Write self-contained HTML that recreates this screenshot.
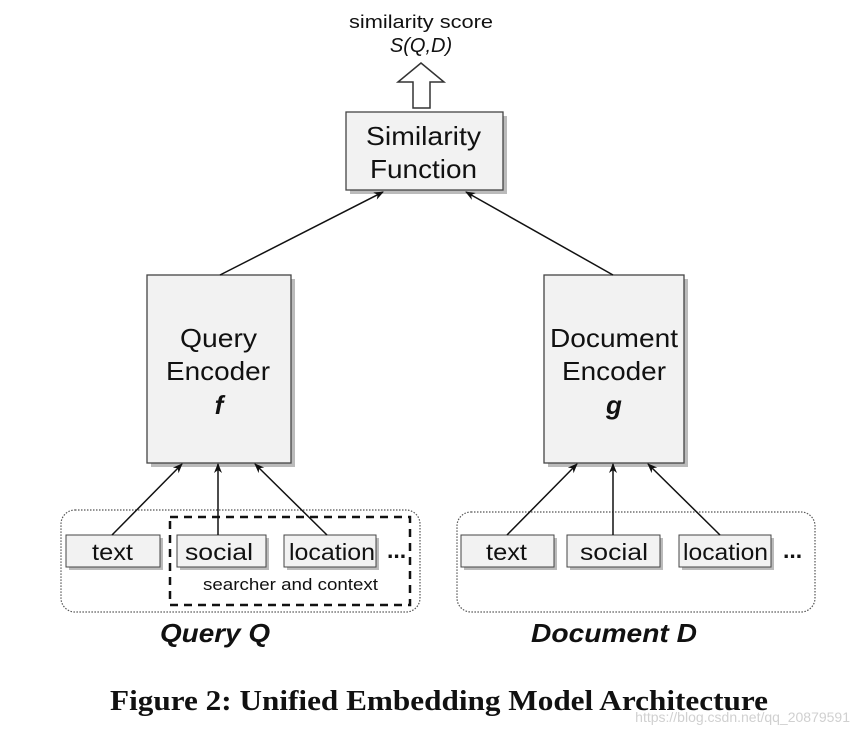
<!DOCTYPE html>
<html><head><meta charset="utf-8"><style>
html,body{margin:0;padding:0;background:#fff;}
svg{display:block;}
text{font-family:"Liberation Sans",sans-serif;fill:#111;}
</style></head><body>
<svg width="858" height="734" viewBox="0 0 858 734" xmlns="http://www.w3.org/2000/svg">
<defs>
<marker id="ah" markerWidth="10" markerHeight="10" refX="9" refY="5" orient="auto" markerUnits="userSpaceOnUse">
<path d="M0,1 L10,5 L0,9 L3,5 Z" fill="#111"/>
</marker>
</defs>
<text x="349" y="28" font-size="18" textLength="144" lengthAdjust="spacingAndGlyphs">similarity score</text>
<text x="421" y="52" font-size="20" font-style="italic" text-anchor="middle">S(Q,D)</text>
<path d="M413,108 L413,82 L398,82 L421,63 L444,82 L430,82 L430,108 Z" fill="#fff" stroke="#333" stroke-width="1.5"/>
<rect x="350" y="116" width="157" height="78" fill="#bbb"/>
<rect x="346" y="112" width="157" height="78" fill="#f2f2f2" stroke="#444" stroke-width="1.3"/>
<text x="366" y="145" font-size="26" textLength="115" lengthAdjust="spacingAndGlyphs">Similarity</text>
<text x="370" y="178" font-size="26" textLength="107" lengthAdjust="spacingAndGlyphs">Function</text>
<rect x="151" y="279" width="144" height="188" fill="#bbb"/>
<rect x="147" y="275" width="144" height="188" fill="#f2f2f2" stroke="#444" stroke-width="1.3"/>
<text x="180" y="347" font-size="26" textLength="77" lengthAdjust="spacingAndGlyphs">Query</text>
<text x="166" y="380" font-size="26" textLength="104" lengthAdjust="spacingAndGlyphs">Encoder</text>
<text x="219" y="414" font-size="26" font-weight="bold" font-style="italic" text-anchor="middle">f</text>
<rect x="548" y="279" width="140" height="188" fill="#bbb"/>
<rect x="544" y="275" width="140" height="188" fill="#f2f2f2" stroke="#444" stroke-width="1.3"/>
<text x="550" y="347" font-size="26" textLength="128" lengthAdjust="spacingAndGlyphs">Document</text>
<text x="562" y="380" font-size="26" textLength="104" lengthAdjust="spacingAndGlyphs">Encoder</text>
<text x="614" y="414" font-size="26" font-weight="bold" font-style="italic" text-anchor="middle">g</text>
<line x1="220" y1="275" x2="383" y2="192" stroke="#111" stroke-width="1.5" marker-end="url(#ah)"/>
<line x1="613" y1="275" x2="466" y2="192" stroke="#111" stroke-width="1.5" marker-end="url(#ah)"/>
<rect x="61" y="510" width="359" height="102" rx="14" fill="none" stroke="#555" stroke-width="1.2" stroke-dasharray="1.5,1.5"/>
<rect x="457" y="512" width="358" height="100" rx="14" fill="none" stroke="#555" stroke-width="1.2" stroke-dasharray="1.5,1.5"/>
<rect x="170" y="517" width="240" height="88" fill="none" stroke="#111" stroke-width="2.5" stroke-dasharray="8,6"/>
<text x="203" y="590" font-size="17" textLength="175" lengthAdjust="spacingAndGlyphs">searcher and context</text>
<g font-size="23">
<rect x="69" y="538" width="94" height="32" fill="#bbb"/><rect x="66" y="535" width="94" height="32" fill="#f2f2f2" stroke="#444"/>
<text x="92" y="560" textLength="41" lengthAdjust="spacingAndGlyphs">text</text>
<rect x="180" y="538" width="89" height="32" fill="#bbb"/><rect x="177" y="535" width="89" height="32" fill="#f2f2f2" stroke="#444"/>
<text x="185" y="560" textLength="68" lengthAdjust="spacingAndGlyphs">social</text>
<rect x="287" y="538" width="92" height="32" fill="#bbb"/><rect x="284" y="535" width="92" height="32" fill="#f2f2f2" stroke="#444"/>
<text x="289" y="560" textLength="86" lengthAdjust="spacingAndGlyphs">location</text>
<text x="387" y="558" font-weight="bold">...</text>
<rect x="464" y="538" width="93" height="32" fill="#bbb"/><rect x="461" y="535" width="93" height="32" fill="#f2f2f2" stroke="#444"/>
<text x="486" y="560" textLength="41" lengthAdjust="spacingAndGlyphs">text</text>
<rect x="570" y="538" width="93" height="32" fill="#bbb"/><rect x="567" y="535" width="93" height="32" fill="#f2f2f2" stroke="#444"/>
<text x="580" y="560" textLength="68" lengthAdjust="spacingAndGlyphs">social</text>
<rect x="682" y="538" width="92" height="32" fill="#bbb"/><rect x="679" y="535" width="92" height="32" fill="#f2f2f2" stroke="#444"/>
<text x="683" y="560" textLength="85" lengthAdjust="spacingAndGlyphs">location</text>
<text x="783" y="558" font-weight="bold">...</text>
</g>
<g stroke="#111" stroke-width="1.5" marker-end="url(#ah)">
<line x1="112" y1="535" x2="182" y2="464"/>
<line x1="218" y1="535" x2="218" y2="464"/>
<line x1="327" y1="535" x2="255" y2="464"/>
<line x1="507" y1="535" x2="577" y2="464"/>
<line x1="613" y1="535" x2="613" y2="464"/>
<line x1="720" y1="535" x2="648" y2="464"/>
</g>
<text x="160" y="642" font-size="26" font-weight="bold" font-style="italic" textLength="110" lengthAdjust="spacingAndGlyphs">Query Q</text>
<text x="531" y="642" font-size="26" font-weight="bold" font-style="italic" textLength="166" lengthAdjust="spacingAndGlyphs">Document D</text>
<text x="110" y="710" font-size="29" font-weight="bold" textLength="658" lengthAdjust="spacingAndGlyphs" style="font-family:'Liberation Serif',serif">Figure 2: Unified Embedding Model Architecture</text>
<text x="850" y="722" font-size="14" text-anchor="end" style="fill:#d0d0d0">https://blog.csdn.net/qq_20879591</text>
</svg>
</body></html>
